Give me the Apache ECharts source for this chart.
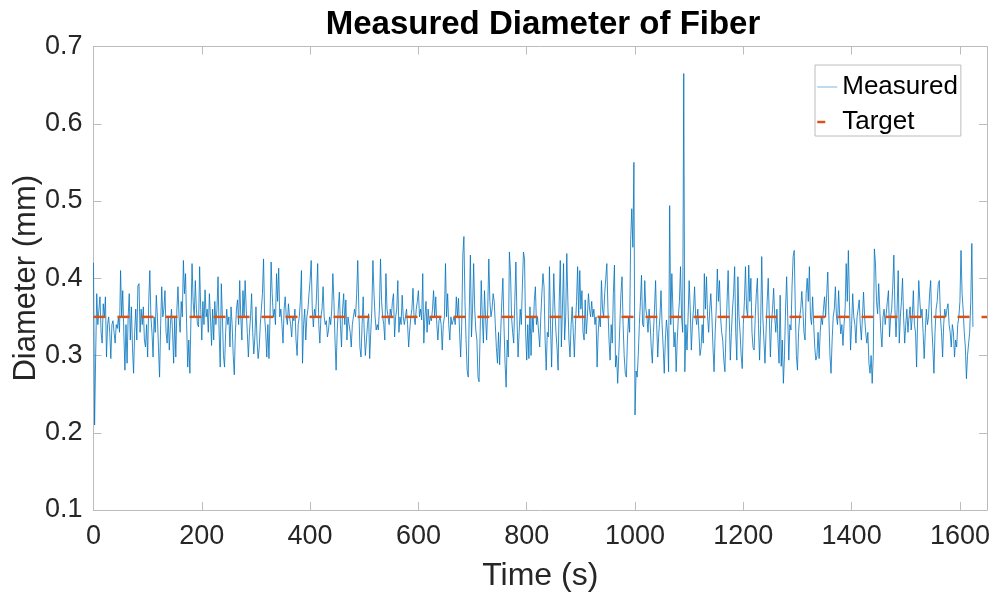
<!DOCTYPE html>
<html><head><meta charset="utf-8">
<script src="https://cdn.jsdelivr.net/npm/echarts@6/dist/echarts.min.js"></script>
<style>html,body{margin:0;padding:0;background:#fff}#c{width:997px;height:599px}</style>
</head><body><div id="c"></div>
<script>
// ---- data ----
const sampleStep = 2; // seconds between samples
const seg0 = [0.42,0.21,0.30,0.38,0.34,0.36,0.376,0.33,0.316,0.367,
0.35,0.376,0.298,0.34,0.35,0.33,0.296,0.34,0.345,0.33,
0.316,0.34,0.335,0.35,0.33,0.41,0.35,0.384,0.33,0.281,
0.34,0.29,0.35,0.38,0.32,0.363,0.31,0.277,0.33,0.36,
0.32,0.39,0.393,0.33,0.36,0.34,0.363,0.32,0.311,0.34,
0.298,0.37,0.41,0.35,0.33,0.298,0.35,0.33,0.378,0.35,
0.31,0.272,0.34,0.389,0.35,0.36,0.384,0.33,0.316,0.35,
0.307,0.34,0.36,0.33,0.29,0.35,0.298,0.36,0.389,0.35,
0.33,0.37,0.35,0.423,0.38,0.406,0.34,0.285,0.32,0.277,
0.35,0.419,0.37,0.35,0.397,0.36,0.34,0.337,0.415,0.36];
const seg1 = [0.32,0.37,0.34,0.385,0.35,0.36,0.33,0.38,0.35,0.313,
0.36,0.32,0.37,0.34,0.36,0.402,0.33,0.285,0.393,0.35,
0.30,0.285,0.33,0.36,0.34,0.35,0.311,0.363,0.34,0.30,
0.275,0.33,0.36,0.372,0.34,0.397,0.35,0.32,0.384,0.35,
0.397,0.36,0.33,0.298,0.33,0.35,0.38,0.33,0.302,0.324,
0.363,0.32,0.296,0.31,0.34,0.36,0.38,0.425,0.35,0.33,
0.298,0.34,0.296,0.35,0.421,0.38,0.35,0.36,0.34,0.406,
0.37,0.413,0.35,0.36,0.34,0.316,0.36,0.376,0.35,0.34,
0.367,0.35,0.34,0.324,0.35,0.345,0.36,0.32,0.30,0.34,
0.35,0.37,0.41,0.29,0.34,0.36,0.32,0.35,0.36,0.38];
const seg2 = [0.397,0.423,0.36,0.337,0.36,0.35,0.38,0.419,0.34,0.316,
0.35,0.36,0.389,0.35,0.34,0.345,0.324,0.333,0.35,0.34,
0.36,0.406,0.37,0.32,0.281,0.33,0.36,0.382,0.34,0.311,
0.36,0.38,0.34,0.372,0.32,0.35,0.34,0.33,0.311,0.34,
0.35,0.36,0.35,0.38,0.423,0.36,0.31,0.298,0.34,0.376,
0.33,0.30,0.32,0.34,0.354,0.296,0.33,0.36,0.423,0.38,
0.35,0.333,0.34,0.333,0.36,0.425,0.37,0.35,0.34,0.32,
0.406,0.36,0.35,0.34,0.36,0.35,0.37,0.38,0.324,0.35,
0.36,0.397,0.33,0.35,0.34,0.378,0.35,0.34,0.35,0.36,
0.34,0.311,0.333,0.35,0.36,0.387,0.35,0.34,0.36,0.37];
const seg3 = [0.384,0.35,0.36,0.346,0.406,0.316,0.35,0.37,0.33,0.36,
0.34,0.35,0.345,0.36,0.384,0.35,0.376,0.34,0.32,0.345,
0.35,0.34,0.307,0.34,0.35,0.419,0.35,0.38,0.34,0.32,
0.35,0.34,0.345,0.35,0.34,0.376,0.35,0.374,0.33,0.298,
0.34,0.43,0.454,0.37,0.32,0.281,0.272,0.36,0.43,0.324,
0.36,0.419,0.36,0.333,0.32,0.272,0.266,0.33,0.397,0.35,
0.316,0.384,0.35,0.32,0.36,0.425,0.37,0.35,0.36,0.38,
0.37,0.34,0.31,0.29,0.33,0.288,0.33,0.37,0.40,0.34,
0.29,0.259,0.32,0.298,0.434,0.41,0.35,0.33,0.316,0.37,
0.421,0.35,0.298,0.33,0.36,0.34,0.39,0.434,0.425,0.33];
const seg4 = [0.294,0.34,0.296,0.363,0.30,0.35,0.33,0.37,0.389,0.34,
0.35,0.33,0.311,0.35,0.38,0.406,0.389,0.32,0.281,0.33,
0.324,0.415,0.34,0.285,0.35,0.406,0.36,0.33,0.31,0.281,
0.37,0.423,0.311,0.36,0.419,0.32,0.35,0.432,0.37,0.32,
0.298,0.34,0.363,0.33,0.298,0.34,0.37,0.415,0.35,0.41,
0.36,0.384,0.33,0.32,0.372,0.328,0.35,0.38,0.36,0.35,
0.37,0.35,0.36,0.34,0.35,0.285,0.33,0.35,0.337,0.397,
0.36,0.35,0.38,0.40,0.419,0.36,0.32,0.294,0.34,0.316,
0.38,0.417,0.285,0.30,0.264,0.30,0.34,0.38,0.402,0.34,
0.30,0.277,0.272,0.32,0.35,0.33,0.45,0.49,0.44,0.55];
const seg5 = [0.223,0.28,0.272,0.30,0.34,0.37,0.404,0.34,0.337,0.397,
0.36,0.35,0.33,0.36,0.34,0.31,0.29,0.33,0.36,0.397,
0.34,0.298,0.33,0.35,0.384,0.34,0.311,0.277,0.32,0.346,
0.33,0.279,0.494,0.34,0.406,0.36,0.311,0.33,0.279,0.32,
0.35,0.37,0.415,0.35,0.33,0.665,0.279,0.34,0.307,0.35,
0.397,0.36,0.307,0.34,0.36,0.389,0.35,0.34,0.36,0.33,
0.30,0.31,0.34,0.316,0.406,0.36,0.402,0.35,0.33,0.36,
0.38,0.35,0.31,0.279,0.33,0.36,0.412,0.37,0.397,0.35,
0.33,0.32,0.294,0.279,0.33,0.37,0.41,0.35,0.294,0.33,
0.36,0.38,0.415,0.33,0.294,0.402,0.35,0.33,0.30,0.283];
const seg6 = [0.34,0.37,0.415,0.36,0.35,0.417,0.37,0.40,0.33,0.31,
0.307,0.35,0.38,0.40,0.34,0.294,0.34,0.428,0.35,0.32,
0.29,0.33,0.37,0.40,0.35,0.298,0.34,0.36,0.387,0.35,
0.33,0.36,0.32,0.29,0.378,0.286,0.32,0.264,0.30,0.36,
0.402,0.35,0.294,0.34,0.333,0.39,0.428,0.436,0.36,0.30,
0.281,0.33,0.35,0.36,0.383,0.36,0.33,0.32,0.38,0.40,
0.37,0.415,0.35,0.34,0.376,0.34,0.31,0.294,0.30,0.33,
0.296,0.33,0.35,0.34,0.36,0.376,0.35,0.38,0.408,0.35,
0.30,0.277,0.32,0.35,0.36,0.389,0.35,0.34,0.384,0.35,
0.328,0.34,0.313,0.34,0.36,0.419,0.37,0.436,0.37,0.307];
const seg7 = [0.34,0.38,0.35,0.34,0.316,0.35,0.36,0.372,0.34,0.32,
0.35,0.382,0.35,0.33,0.316,0.33,0.29,0.277,0.30,0.264,
0.30,0.438,0.42,0.37,0.354,0.393,0.36,0.33,0.311,0.35,
0.36,0.34,0.355,0.37,0.384,0.324,0.35,0.36,0.39,0.43,
0.36,0.324,0.36,0.41,0.316,0.35,0.37,0.40,0.35,0.316,
0.34,0.36,0.33,0.35,0.363,0.333,0.35,0.384,0.34,0.33,
0.285,0.35,0.397,0.37,0.35,0.36,0.33,0.296,0.33,0.36,
0.34,0.35,0.38,0.397,0.34,0.31,0.277,0.33,0.36,0.37,
0.393,0.397,0.35,0.33,0.298,0.34,0.36,0.35,0.36,0.367,
0.34,0.33,0.311,0.34,0.33,0.298,0.32,0.311,0.34,0.35,
0.37,0.436,0.38,0.359,0.33,0.311,0.27,0.30,0.298,0.33,
0.37,0.445,0.337];
const measured = [].concat(seg0, seg1, seg2, seg3, seg4, seg5, seg6, seg7);
const targetDiameter = 0.35;
const xRange = [0, 1650];
const xTickStep = 200;
const yRange = [0.1, 0.7];
const yTickStep = 0.1;
const seriesNames = ['Measured', 'Target'];
const titleText = 'Measured Diameter of Fiber';
const xName = 'Time (s)';
const yName = 'Diameter (mm)';

// ---- chart ----
const FONT = '"Liberation Sans", Arial, Helvetica, sans-serif';
const TXT = '#262626';
const AX = '#bcbcbc';
const BLUE = '#0072BD';
const ORANGE = '#D95319';
const chart = echarts.init(document.getElementById('c'), null, {renderer: 'canvas'});
const measuredData = measured.map((v, i) => [i * sampleStep, v]);
const targetData = [[xRange[0], targetDiameter], [xRange[1], targetDiameter]];

const baseX = {
  type: 'value', min: xRange[0], max: xRange[1], interval: xTickStep,
  axisLine: {show: true, onZero: false, lineStyle: {color: AX, width: 1}},
  axisTick: {show: true, inside: true, length: 8, lineStyle: {color: AX}},
  splitLine: {show: false}
};
const baseY = {
  type: 'value', min: yRange[0], max: yRange[1], interval: yTickStep,
  axisLine: {show: true, onZero: false, lineStyle: {color: AX, width: 1}},
  axisTick: {show: true, inside: true, length: 8, lineStyle: {color: AX}},
  splitLine: {show: false}
};

chart.setOption({
  animation: false,
  backgroundColor: '#fff',
  color: [BLUE, ORANGE],
  textStyle: {fontFamily: FONT},
  title: {
    text: titleText, left: 538, top: 3, textAlign: 'center',
    textStyle: {fontFamily: FONT, fontSize: 33, fontWeight: 'bold', color: '#000'}
  },
  grid: {left: 93.5, right: 10, top: 46.5, bottom: 89, containLabel: false, outerBoundsMode: 'none'},
  legend: {
    show: true, orient: 'vertical', left: 815, top: 65, right: 'auto', bottom: 'auto',
    padding: [9, 3, 1, 1], itemGap: 9, itemWidth: 20, itemHeight: 14,
    backgroundColor: '#fff', borderColor: AX, borderWidth: 1, borderRadius: 0,
    textStyle: {fontFamily: FONT, fontSize: 26, lineHeight: 26, color: '#000'},
    selectedMode: false,
    data: [
      {name: seriesNames[0], itemStyle: {color: 'rgba(0,0,0,0)', borderWidth: 0},
       lineStyle: {color: '#5aa3d6', width: 0.8, type: 'solid'}},
      {name: seriesNames[1], itemStyle: {color: 'rgba(0,0,0,0)', borderWidth: 0},
       lineStyle: {color: ORANGE, width: 2.5, type: [8, 30]}}
    ]
  },
  xAxis: [
    Object.assign({}, baseX, {
      position: 'bottom', name: xName, nameLocation: 'middle', nameGap: 50,
      nameMoveOverlap: false,
      nameTextStyle: {fontFamily: FONT, fontSize: 32, color: TXT},
      axisLabel: {show: true, fontFamily: FONT, fontSize: 27, color: TXT, margin: 13,
                  formatter: v => String(v)}
    }),
    Object.assign({}, baseX, {position: 'top', axisLabel: {show: false}})
  ],
  yAxis: [
    Object.assign({}, baseY, {
      position: 'left', name: yName, nameLocation: 'middle', nameGap: 52,
      nameMoveOverlap: false,
      nameTextStyle: {fontFamily: FONT, fontSize: 31, color: TXT},
      axisLabel: {show: true, fontFamily: FONT, fontSize: 27, color: TXT, margin: 11,
                  formatter: v => v.toFixed(1)}
    }),
    Object.assign({}, baseY, {position: 'right', axisLabel: {show: false}})
  ],
  series: [
    {
      name: seriesNames[0], type: 'line', data: measuredData,
      xAxisIndex: 0, yAxisIndex: 0, symbol: 'none', showSymbol: false,
      sampling: null, silent: true,
      itemStyle: {color: BLUE},
      lineStyle: {color: BLUE, width: 0.8}
    },
    {
      name: seriesNames[1], type: 'line', data: targetData,
      xAxisIndex: 0, yAxisIndex: 0, symbol: 'none', showSymbol: false, silent: true,
      itemStyle: {color: ORANGE},
      lineStyle: {color: ORANGE, width: 2.5, type: [12, 12]}
    }
  ]
});
</script>
</body></html>
